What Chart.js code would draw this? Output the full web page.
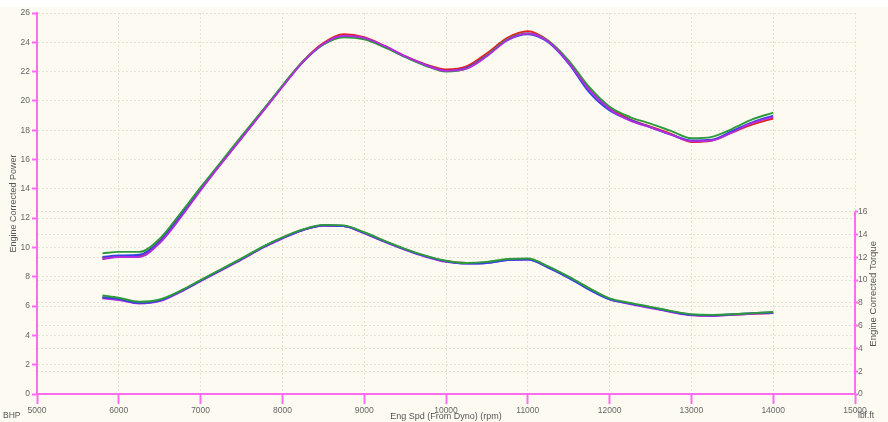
<!DOCTYPE html>
<html>
<head>
<meta charset="utf-8">
<script src="https://cdn.jsdelivr.net/npm/chart.js@4"></script>
<style>
html,body{margin:0;padding:0;background:#ffffff;}
#wrap{width:888px;height:422px;position:relative;}
</style>
</head>
<body>
<div id="wrap"><canvas id="c" width="888" height="422"></canvas></div>
<script>
// ---- data ----
const rpm = [5800,6000,6250,6500,6750,7000,7250,7500,7750,8000,8250,8500,8750,9000,9250,9500,9750,10000,10250,10500,10750,11000,11250,11500,11750,12000,12250,12500,12750,13000,13250,13500,13750,14000];

const powerRed     = [9.25,9.4,9.45,10.45,12.15,14.0,15.75,17.5,19.25,21.0,22.7,23.95,24.55,24.35,23.75,23.05,22.5,22.15,22.35,23.25,24.3,24.75,24.1,22.7,20.85,19.55,18.75,18.25,17.75,17.2,17.3,17.85,18.4,18.8];
const powerBlue    = [9.35,9.45,9.5,10.4,12.15,14.0,15.75,17.5,19.25,21.0,22.65,23.85,24.4,24.25,23.7,23.0,22.45,22.05,22.25,23.1,24.15,24.55,24.0,22.55,20.6,19.35,18.7,18.2,17.7,17.3,17.35,17.95,18.55,19.0];
const powerGreen   = [9.6,9.7,9.7,10.6,12.3,14.1,15.85,17.6,19.3,21.05,22.7,23.85,24.35,24.2,23.65,23.0,22.4,22.0,22.2,23.1,24.2,24.6,24.1,22.75,20.95,19.6,18.9,18.45,17.95,17.45,17.55,18.1,18.75,19.2];
const powerMagenta = [9.2,9.35,9.35,10.3,12.0,13.9,15.7,17.45,19.2,20.95,22.65,23.9,24.45,24.3,23.75,23.05,22.45,22.05,22.2,23.05,24.15,24.6,24.05,22.6,20.75,19.45,18.65,18.2,17.7,17.25,17.3,17.85,18.5,18.9];

const torqueRed     = [8.45,8.3,8.0,8.2,9.0,9.95,10.9,11.85,12.85,13.7,14.4,14.8,14.75,14.15,13.4,12.7,12.1,11.65,11.5,11.55,11.8,11.85,11.15,10.25,9.25,8.35,7.95,7.6,7.25,6.95,6.9,6.95,7.05,7.1];
const torqueBlue    = [8.5,8.35,8.0,8.2,9.0,9.95,10.9,11.85,12.85,13.7,14.4,14.8,14.75,14.15,13.4,12.7,12.1,11.65,11.45,11.5,11.75,11.8,11.1,10.2,9.15,8.3,7.95,7.6,7.25,6.95,6.9,7.0,7.1,7.15];
const torqueGreen   = [8.65,8.45,8.1,8.3,9.05,10.0,10.95,11.9,12.9,13.75,14.45,14.85,14.8,14.2,13.45,12.75,12.15,11.7,11.5,11.6,11.85,11.9,11.2,10.3,9.3,8.4,8.0,7.65,7.3,7.0,6.95,7.0,7.1,7.2];
const torqueMagenta = [8.4,8.25,7.95,8.15,8.95,9.9,10.85,11.8,12.8,13.65,14.4,14.8,14.75,14.1,13.35,12.65,12.05,11.6,11.45,11.5,11.75,11.8,11.1,10.2,9.2,8.3,7.9,7.55,7.2,6.9,6.85,6.95,7.05,7.1];

const xTicks = [5000,6000,7000,8000,9000,10000,11000,12000,13000,14000,15000];
const powerTicks = [0,2,4,6,8,10,12,14,16,18,20,22,24,26];
const torqueTicks = [0,2,4,6,8,10,12,14,16];

const xTitle = 'Eng Spd (From Dyno) (rpm)';
const powerTitle = 'Engine Corrected Power';
const torqueTitle = 'Engine Corrected Torque';
const powerUnit = 'BHP';
const torqueUnit = 'lbf.ft';

// ---- styles ----
const PINK = '#FF6CF0';
const GRID = '#E6E1D2';
const TXT = '#666666';
const FONT = 'Liberation Sans, Arial, sans-serif';
const colors = {red:'#E4231E', blue:'#3343E6', green:'#2E9A3C', magenta:'#B22CE0'};

function pts(arr){ return rpm.map((r,i)=>({x:r,y:arr[i]})); }
function ds(arr,color,axis){
  return {data:pts(arr),borderColor:color,backgroundColor:color,borderWidth:1.9,pointRadius:0,
    cubicInterpolationMode:'monotone',fill:false,yAxisID:axis};
}

const bgPlugin = {
  id:'bg',
  beforeDraw(chart){
    const ctx = chart.ctx;
    ctx.save();
    ctx.fillStyle = '#FDFBF1';
    ctx.fillRect(0,7,chart.width,chart.height-7);
    ctx.restore();
  }
};

const extras = {
  id:'extras',
  afterDraw(chart){
    const ctx = chart.ctx;
    const a = chart.chartArea;
    const y2 = chart.scales.y2;
    ctx.save();
    ctx.strokeStyle = PINK;
    ctx.lineWidth = 2;
    ctx.beginPath();
    const yt = y2.getPixelForValue(torqueTicks[torqueTicks.length-1]);
    const yb = y2.getPixelForValue(torqueTicks[0]);
    ctx.moveTo(y2.left, yt);
    ctx.lineTo(y2.left, yb+1);
    ctx.stroke();
    ctx.fillStyle = '#555';
    ctx.font = '9px ' + FONT;
    ctx.textAlign = 'center';
    ctx.textBaseline = 'middle';
    ctx.fillText(xTitle, (a.left+a.right)/2, 417);
    ctx.save();
    ctx.translate(14,(a.top+a.bottom)/2);
    ctx.rotate(-Math.PI/2);
    ctx.fillText(powerTitle,0,0);
    ctx.restore();
    ctx.font = '9.5px ' + FONT;
    ctx.save();
    ctx.translate(873,(yt+yb)/2 - 9);
    ctx.rotate(-Math.PI/2);
    ctx.fillText(torqueTitle,0,0);
    ctx.restore();
    ctx.font = '8.5px ' + FONT;
    ctx.textAlign = 'left';
    ctx.fillText(powerUnit, 3, 416);
    ctx.fillText(torqueUnit, 858, 416);
    ctx.restore();
  }
};

const tickFont = {family:FONT,size:8.5};
const plain = v => String(v);

new Chart(document.getElementById('c'),{
  type:'line',
  data:{datasets:[
    // first listed is drawn on top
    ds(powerMagenta,colors.magenta,'y'),
    ds(powerGreen,colors.green,'y'),
    ds(powerBlue,colors.blue,'y'),
    ds(powerRed,colors.red,'y'),
    ds(torqueGreen,colors.green,'y2'),
    ds(torqueBlue,colors.blue,'y2'),
    ds(torqueMagenta,colors.magenta,'y2'),
    ds(torqueRed,colors.red,'y2')
  ]},
  options:{
    responsive:false,
    animation:false,
    devicePixelRatio:1,
    layout:{padding:{top:13,left:0,right:0,bottom:0}},
    plugins:{legend:{display:false},tooltip:{enabled:false}},
    scales:{
      x:{type:'linear',min:5000,max:15000,
        afterBuildTicks(s){ s.ticks = xTicks.map(v=>({value:v})); },
        afterFit(s){ s.height = 28; },
        grid:{color:GRID,lineWidth:1,tickColor:PINK,tickLength:10,tickWidth:2},
        border:{color:PINK,width:2,dash:[2,2]},
        ticks:{font:tickFont,color:TXT,padding:2,maxRotation:0,autoSkip:false,callback:plain}
      },
      y:{type:'linear',position:'left',min:0,max:26,
        afterBuildTicks(s){ s.ticks = powerTicks.map(v=>({value:v})); },
        afterFit(s){ s.width = 37; },
        grid:{color:GRID,lineWidth:1,tickColor:PINK,tickLength:5,tickWidth:2},
        border:{color:PINK,width:2,dash:[2,2]},
        ticks:{font:tickFont,color:TXT,padding:2,autoSkip:false,callback:plain}
      },
      y2:{type:'linear',position:'right',min:0,max:33.45,
        afterBuildTicks(s){ s.ticks = torqueTicks.map(v=>({value:v})); },
        afterFit(s){ s.width = 33; },
        grid:{color:GRID,lineWidth:1,tickColor:PINK,tickLength:3,tickWidth:2,drawOnChartArea:true},
        border:{display:false,dash:[2,2]},
        ticks:{font:tickFont,color:TXT,padding:0,autoSkip:false,callback:plain}
      }
    }
  },
  plugins:[bgPlugin,extras]
});
</script>
</body>
</html>
